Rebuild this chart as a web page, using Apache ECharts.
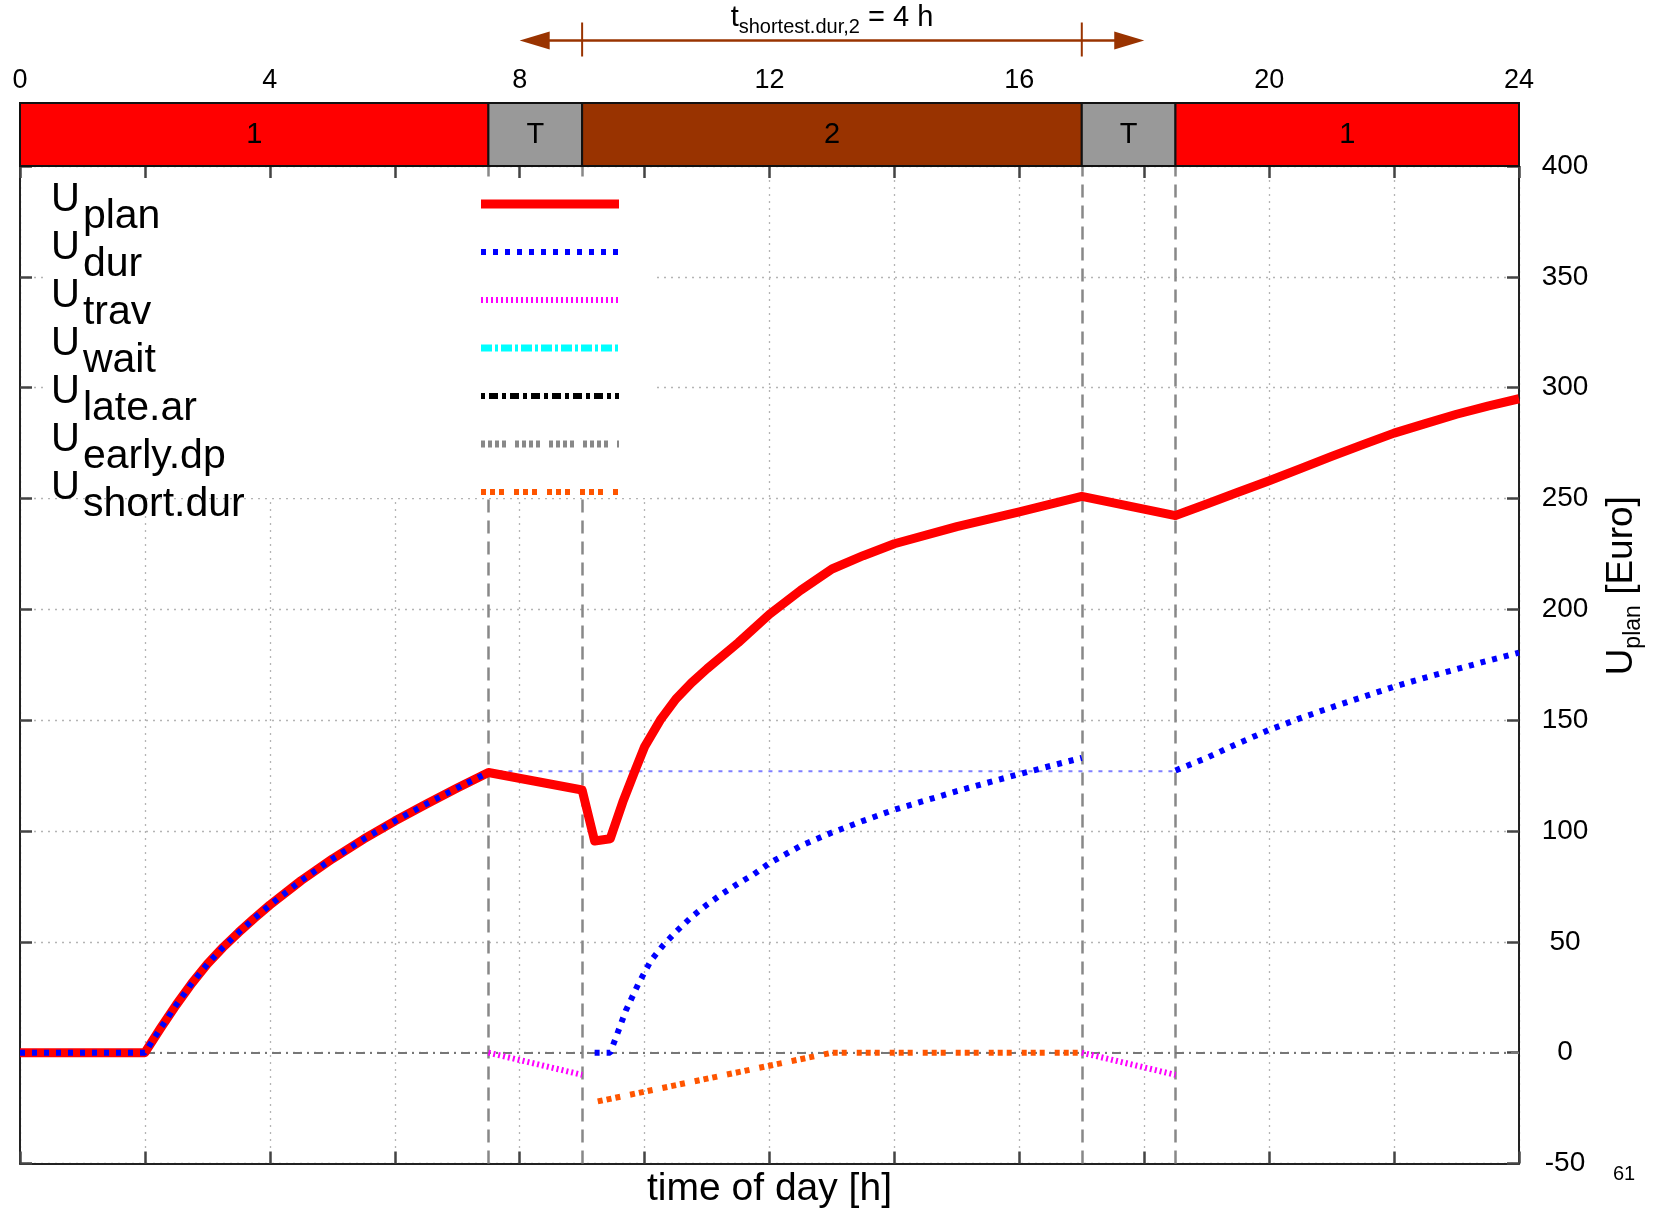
<!DOCTYPE html>
<html><head><meta charset="utf-8">
<script src="https://cdn.jsdelivr.net/npm/echarts@6/dist/echarts.min.js"></script>
<style>html,body{margin:0;padding:0;background:#fff}#c{width:1659px;height:1214px}</style>
</head><body><div id="c"></div>
<script>
const FONT = '"Liberation Sans", Arial, Helvetica, sans-serif';

// ---- axes / tick labels ----
const xTickLabels = [0, 4, 8, 12, 16, 20, 24];
const yTickLabels = [-50, 0, 50, 100, 150, 200, 250, 300, 350, 400];

// ---- activity phases (top bar) ----
const phaseStart = [0, 7.5, 9, 17, 18.5];
const phaseEnd   = [7.5, 9, 17, 18.5, 24];
const phaseLabel = ['1', 'T', '2', 'T', '1'];

// ---- shortest duration annotation ----
const arrowEnds  = [8, 18];
const arrowTicks = [9, 17];

// ---- series ----
const planHours = [0, 2, 2.25, 2.5, 2.75, 3, 3.25, 3.5, 3.75, 4, 4.5, 5, 5.5, 6, 6.5, 7, 7.5,
                   9, 9.2, 9.45, 9.65, 9.85, 10, 10.25, 10.5, 10.75, 11, 11.5, 12, 12.5, 13, 13.5, 14, 15, 16, 17,
                   18.5, 19, 19.5, 20, 20.5, 21, 21.5, 22, 22.5, 23, 23.5, 24];
const planVals  = [0, 0, 11, 21.5, 31.25, 40, 47.5, 54.25, 60.6, 66.6, 77.6, 87.4, 96.3, 104.5, 112.1, 119.4, 126.4,
                   118.5, 95.5, 96.5, 113, 127.5, 138, 150, 159.5, 166.8, 173.2, 185, 197.8, 208.6, 218.2, 224.2, 229.6, 237.3, 244, 251,
                   242.3, 247.5, 252.8, 258, 263.5, 269, 274.3, 279.5, 283.8, 288, 291.7, 295];

const durHours = [0, 2, 2.25, 2.5, 2.75, 3, 3.25, 3.5, 3.75, 4, 4.5, 5, 5.5, 6, 6.5, 7, 7.5, null,
                  9.2, 9.45, 9.55, 9.7, 9.9, 10.1, 10.3, 10.5, 10.75, 11, 11.25, 11.5, 11.75, 12, 12.5, 13, 13.5, 14, 15, 16, 17, null,
                  18.5, 19, 19.5, 20, 20.5, 21, 21.5, 22, 22.5, 23, 23.5, 24];
const durVals  = [0, 0, 11, 21.5, 31.25, 40, 47.5, 54.25, 60.6, 66.6, 77.6, 87.4, 96.3, 104.5, 112.1, 119.4, 126.4, null,
                  0, 0, 7.5, 19, 31, 41.5, 48.5, 54.5, 61.2, 66.8, 71.8, 76.3, 80.5, 85.5, 93.3, 99.3, 104.6, 109.6, 118, 125.7, 133, null,
                  127.3, 133, 139.5, 145.6, 150.9, 155.8, 160.5, 165.1, 169.2, 173, 176.8, 180.5];

const carryHours = [7.5, 18.5];
const carryVals  = [127, 127];

const travHours = [7.5, 9, null, 17, 18.5];
const travVals  = [0, -10, null, 0, -10];

const waitHours = [];   const waitVals = [];
const lateHours = [];   const lateVals = [];
const earlyHours = [];  const earlyVals = [];

const shortHours = [9.25, 13, 17];
const shortVals  = [-22, 0, 0];

const legendNames = ['U_plan', 'U_dur', 'U_trav', 'U_wait', 'U_late.ar', 'U_early.dp', 'U_short.dur'];

const pairs = (hs, vs) => hs.map((h, i) => h === null ? ['-', '-'] : [h, vs[i]]);
const phaseColor = { '1': '#ff0000', 'T': '#999999', '2': '#993300' };

function renderPhase(params, api) {
  const i = api.value(2);
  const p0 = api.coord([api.value(0), 0]);
  const p1 = api.coord([api.value(1), 1]);
  return {
    type: 'group',
    children: [
      { type: 'rect', shape: { x: p0[0], y: p1[1], width: p1[0] - p0[0], height: p0[1] - p1[1] },
        style: { fill: phaseColor[phaseLabel[i]], stroke: '#111', lineWidth: 2 } },
      { type: 'text', x: (p0[0] + p1[0]) / 2, y: (p0[1] + p1[1]) / 2,
        style: { text: phaseLabel[i], fontSize: 29, fontFamily: FONT, fill: '#000', align: 'center', verticalAlign: 'middle' } }
    ]
  };
}

function renderArrow(params, api) {
  const top = api.coord([0, 1])[1];
  const y = top - 62.5;
  const xa = api.coord([api.value(0), 1])[0];
  const xb = api.coord([api.value(1), 1])[0];
  const t1 = api.coord([api.value(2), 1])[0];
  const t2 = api.coord([api.value(3), 1])[0];
  const c = '#993300', hl = 30, hh = 9;
  return {
    type: 'group',
    children: [
      { type: 'line', shape: { x1: xa + hl - 2, y1: y, x2: xb - hl + 2, y2: y }, style: { stroke: c, lineWidth: 2.5 } },
      { type: 'polygon', shape: { points: [[xa, y], [xa + hl, y - hh], [xa + hl, y + hh]] }, style: { fill: c } },
      { type: 'polygon', shape: { points: [[xb, y], [xb - hl, y - hh], [xb - hl, y + hh]] }, style: { fill: c } },
      { type: 'line', shape: { x1: t1, y1: y - 18, x2: t1, y2: y + 16 }, style: { stroke: c, lineWidth: 2 } },
      { type: 'line', shape: { x1: t2, y1: y - 18, x2: t2, y2: y + 16 }, style: { stroke: c, lineWidth: 2 } },
      { type: 'text', x: (t1 + t2) / 2, y: y - 37,
        style: { text: '{t|t}{s|shortest.dur,2}{t| = 4 h}', align: 'center', verticalAlign: 'top', fill: '#000',
          rich: {
            t: { fontSize: 29, fontFamily: FONT, lineHeight: 30, verticalAlign: 'top', fill: '#000' },
            s: { fontSize: 20, fontFamily: FONT, lineHeight: 30, verticalAlign: 'top', padding: [14, 0, 0, 0], fill: '#000' }
          } } }
    ]
  };
}

const axisLineStyle = { color: '#222', width: 2 };
const tickStyle = { color: '#444', width: 2.5 };
const gridLineStyle = { color: '#b4b4b4', width: 1.3, type: [2, 5] };
const xMin = xTickLabels[0], xMax = xTickLabels[xTickLabels.length - 1];
const xStep = xTickLabels[1] - xTickLabels[0];
const yMin = yTickLabels[0], yMax = yTickLabels[yTickLabels.length - 1];
const yStep = yTickLabels[1] - yTickLabels[0];

const lineBase = { type: 'line', xAxisIndex: 0, yAxisIndex: 0, symbol: 'none', silent: true, connectNulls: false };

const option = {
  animation: false,
  backgroundColor: '#fff',
  textStyle: { fontFamily: FONT },
  grid: [
    { left: 20, right: 140, top: 166, bottom: 50.5, containLabel: false, outerBoundsMode: 'none' },
    { left: 20, right: 140, top: 103, height: 63, containLabel: false, outerBoundsMode: 'none' }
  ],
  xAxis: [
    { gridIndex: 0, type: 'value', position: 'top', min: xMin, max: xMax, interval: xStep / 2,
      axisLine: { show: true, onZero: false, lineStyle: axisLineStyle },
      axisTick: { show: true, inside: true, length: 12, lineStyle: tickStyle },
      axisLabel: { show: false }, splitLine: { show: true, lineStyle: gridLineStyle } },
    { gridIndex: 0, type: 'value', position: 'bottom', min: xMin, max: xMax, interval: xStep / 2,
      axisLine: { show: true, onZero: false, lineStyle: axisLineStyle },
      axisTick: { show: true, inside: true, length: 12, lineStyle: tickStyle },
      axisLabel: { show: false }, splitLine: { show: false },
      name: 'time of day [h]', nameLocation: 'middle', nameGap: 6,
      nameTextStyle: { fontSize: 39, color: '#000', fontFamily: FONT, verticalAlign: 'top' } },
    { gridIndex: 1, type: 'value', position: 'top', min: xMin, max: xMax, interval: xStep,
      axisLine: { show: false }, axisTick: { show: false }, splitLine: { show: false },
      axisLabel: { show: true, fontSize: 27, color: '#000', margin: 9, fontFamily: FONT } }
  ],
  yAxis: [
    { gridIndex: 0, type: 'value', position: 'right', min: yMin, max: yMax, interval: yStep,
      axisLine: { show: true, onZero: false, lineStyle: axisLineStyle },
      axisTick: { show: true, inside: true, length: 12, lineStyle: tickStyle },
      axisLabel: { show: true, fontSize: 28, color: '#000', align: 'center', margin: 46, fontFamily: FONT },
      splitLine: { show: true, lineStyle: gridLineStyle },
      name: '{a|U}{b|plan}{a| [Euro]}', nameLocation: 'middle', nameRotate: 90, nameGap: 84,
      nameTextStyle: { color: '#000', padding: [0, 0, 0, 158],
        rich: {
          a: { fontSize: 37, fontFamily: FONT, color: '#000', lineHeight: 42, verticalAlign: 'top' },
          b: { fontSize: 23, fontFamily: FONT, color: '#000', lineHeight: 42, verticalAlign: 'top', padding: [19, 0, 0, 0] }
        } } },
    { gridIndex: 0, type: 'value', position: 'left', min: yMin, max: yMax, interval: yStep,
      axisLine: { show: true, onZero: false, lineStyle: axisLineStyle },
      axisTick: { show: true, inside: true, length: 12, lineStyle: tickStyle },
      axisLabel: { show: false }, splitLine: { show: false } },
    { gridIndex: 1, type: 'value', min: 0, max: 1, show: false }
  ],
  legend: {
    orient: 'vertical', left: 48, top: 180, align: 'right', z: 10,
    padding: [0, 33, -27, 3], itemGap: -9, itemWidth: 138, itemHeight: 14,
    backgroundColor: '#fff', selectedMode: false,
    data: legendNames,
    formatter: n => '{u|U}{s|' + n.slice(2) + '}',
    textStyle: { width: 425, color: '#000',
      rich: {
        u: { fontSize: 40, fontFamily: FONT, color: '#000', lineHeight: 48, verticalAlign: 'top', align: 'left', padding: [0, 3, 0, 0] },
        s: { fontSize: 41, fontFamily: FONT, color: '#000', lineHeight: 48, verticalAlign: 'top', align: 'left', padding: [16, 0, 0, 0] }
      } },
    lineStyle: { width: 'inherit' },
    itemStyle: { opacity: 0 }
  },
  graphic: [
    { type: 'text', left: 1613, top: 1164, style: { text: '61', fontSize: 20, fontFamily: FONT, fill: '#000' } }
  ],
  series: [
    Object.assign({}, lineBase, {
      name: 'carry', data: pairs(carryHours, carryVals), z: 2,
      lineStyle: { color: '#7f7fff', width: 2, type: [4, 6] },
      markLine: {
        silent: true, symbol: ['none', 'none'], z: 1, label: { show: false },
        data: phaseStart.slice(1).map(x => ({ xAxis: x, lineStyle: { color: '#888', width: 2.5, type: [13, 8] } }))
          .concat([{ yAxis: 0, lineStyle: { color: '#777', width: 2, type: [9, 5, 2, 5] } }])
      }
    }),
    Object.assign({}, lineBase, { name: 'U_plan', data: pairs(planHours, planVals), z: 3,
      lineStyle: { color: '#ff0000', width: 9, join: 'round' }, itemStyle: { color: '#ff0000' } }),
    Object.assign({}, lineBase, { name: 'U_dur', data: pairs(durHours, durVals), z: 3,
      lineStyle: { color: '#0000ff', width: 6, type: [5, 7] }, itemStyle: { color: '#0000ff' } }),
    Object.assign({}, lineBase, { name: 'U_trav', data: pairs(travHours, travVals), z: 3,
      lineStyle: { color: '#ff00ff', width: 6, type: [2, 3] }, itemStyle: { color: '#ff00ff' } }),
    Object.assign({}, lineBase, { name: 'U_wait', data: pairs(waitHours, waitVals), z: 3,
      lineStyle: { color: '#00ffff', width: 7, type: [11, 3, 3, 3] }, itemStyle: { color: '#00ffff' } }),
    Object.assign({}, lineBase, { name: 'U_late.ar', data: pairs(lateHours, lateVals), z: 3,
      lineStyle: { color: '#000000', width: 6, type: [4, 4, 9, 4] }, itemStyle: { color: '#000000' } }),
    Object.assign({}, lineBase, { name: 'U_early.dp', data: pairs(earlyHours, earlyVals), z: 3,
      lineStyle: { color: '#888888', width: 7, type: [4, 3, 4, 3, 4, 3, 4, 9] }, itemStyle: { color: '#888888' } }),
    Object.assign({}, lineBase, { name: 'U_short.dur', data: pairs(shortHours, shortVals), z: 3,
      lineStyle: { color: '#ff5500', width: 6, type: [5, 4, 5, 4, 5, 10] }, itemStyle: { color: '#ff5500' } }),
    { type: 'custom', name: 'phases', xAxisIndex: 2, yAxisIndex: 2, silent: true, clip: false,
      data: phaseStart.map((s, i) => [s, phaseEnd[i], i]), renderItem: renderPhase, z: 3 },
    { type: 'custom', name: 'shortest', xAxisIndex: 2, yAxisIndex: 2, silent: true, clip: false,
      data: [[arrowEnds[0], arrowEnds[1], arrowTicks[0], arrowTicks[1]]], renderItem: renderArrow, z: 3 }
  ]
};

const chart = echarts.init(document.getElementById('c'), null, { renderer: 'canvas' });
chart.setOption(option);
</script>
</body></html>
